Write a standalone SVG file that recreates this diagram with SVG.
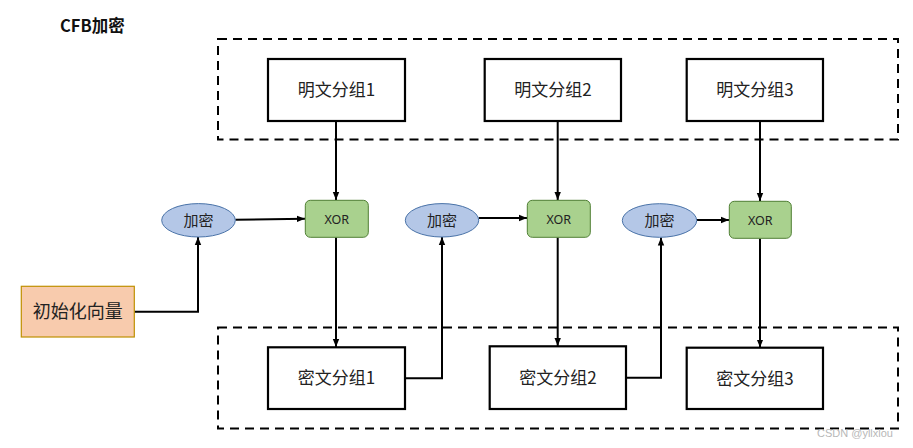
<svg xmlns="http://www.w3.org/2000/svg" width="913" height="448" viewBox="0 0 913 448">
<defs>
<marker id="arr" viewBox="0 0 8 8" refX="8" refY="4" markerWidth="8" markerHeight="8" markerUnits="userSpaceOnUse" orient="auto">
<path d="M0,0.8 L8,4 L0,7.2 Z" fill="#000"/>
</marker>
<style>
.cjk{font-family:"Noto Sans CJK SC","Microsoft YaHei",sans-serif;}
.box{fill:#fff;stroke:#000;stroke-width:2.2;}
.dash{fill:none;stroke:#000;stroke-width:2;stroke-dasharray:9,6;}
.ell{fill:#b4c7e7;stroke:#4a73a8;stroke-width:1;}
.xor{fill:#a9d18e;stroke:#4f7f34;stroke-width:1;}
.lbl{font-size:17px;fill:#222;text-anchor:middle;}
.sm{font-size:15px;fill:#222;text-anchor:middle;}
.x{font-size:12.5px;fill:#222;text-anchor:middle;font-family:"Noto Sans",sans-serif;}
.c{fill:none;stroke:#000;stroke-width:2;marker-end:url(#arr);}
</style>
</defs>
<rect width="913" height="448" fill="#fff"/>
<text x="60" y="32" class="cjk" font-size="16.5" font-weight="bold" fill="#111">CFB加密</text>
<rect class="dash" x="218" y="39" width="680" height="100.5"/>
<rect class="dash" x="218" y="327.5" width="680" height="101"/>
<g id="connectors">
<path class="c" d="M336,121 V200"/>
<path class="c" d="M557.7,121 V200"/>
<path class="c" d="M760,121 V201"/>
<path class="c" d="M235.3,219.7 L305,218.7"/>
<path class="c" d="M478.7,218 L527,218"/>
<path class="c" d="M696.7,220 L729,220"/>
<path class="c" d="M336,237.5 V347"/>
<path class="c" d="M557.7,237.5 V346"/>
<path class="c" d="M760,238.5 V347.5"/>
<path class="c" d="M134.3,311.7 H198 V237"/>
<path class="c" d="M405,378.3 H442 V237"/>
<path class="c" d="M626,377.7 H661 V237.5"/>
</g>
<g id="p1"><rect class="box" x="268" y="59" width="137" height="62"/><text class="cjk lbl" x="336.5" y="96">明文分组1</text></g>
<g id="p2"><rect class="box" x="484.7" y="59" width="136.3" height="62"/><text class="cjk lbl" x="553" y="96">明文分组2</text></g>
<g id="p3"><rect class="box" x="686.7" y="59" width="136.3" height="62"/><text class="cjk lbl" x="755" y="96">明文分组3</text></g>
<g id="c1"><rect class="box" x="268" y="347.3" width="137" height="61.7"/><text class="cjk lbl" x="336.5" y="384">密文分组1</text></g>
<g id="c2"><rect class="box" x="489.7" y="346.3" width="136.3" height="62.7"/><text class="cjk lbl" x="558" y="384">密文分组2</text></g>
<g id="c3"><rect class="box" x="686.7" y="347.7" width="136.3" height="61.3"/><text class="cjk lbl" x="755" y="385">密文分组3</text></g>
<g id="x1"><rect class="xor" x="305.3" y="200.3" width="63" height="37" rx="5"/><text class="x" x="336.8" y="223.5">XOR</text></g>
<g id="x2"><rect class="xor" x="527.3" y="200.3" width="63" height="37" rx="5"/><text class="x" x="558.8" y="223.5">XOR</text></g>
<g id="x3"><rect class="xor" x="729.3" y="201.3" width="62" height="37" rx="5"/><text class="x" x="760.3" y="224.5">XOR</text></g>
<g id="e1"><ellipse class="ell" cx="198.5" cy="220.3" rx="36.8" ry="16.7"/><text class="cjk sm" x="198.5" y="225.5">加密</text></g>
<g id="e2"><ellipse class="ell" cx="442" cy="220.3" rx="36.7" ry="16.7"/><text class="cjk sm" x="442" y="225.5">加密</text></g>
<g id="e3"><ellipse class="ell" cx="659.5" cy="220.5" rx="37.2" ry="16.8"/><text class="cjk sm" x="659.5" y="225.5">加密</text></g>
<g id="iv"><rect x="21.3" y="286.3" width="113" height="50.7" fill="#f8cbad" stroke="#bf9000" stroke-width="1.2"/><text class="cjk" x="77.8" y="318" font-size="18" fill="#222" text-anchor="middle">初始化向量</text></g>
<text x="855" y="437" font-family="Liberation Sans,Arial,sans-serif" font-size="11" fill="#b8b8b8" text-anchor="middle">CSDN @yllxlou</text>
</svg>
